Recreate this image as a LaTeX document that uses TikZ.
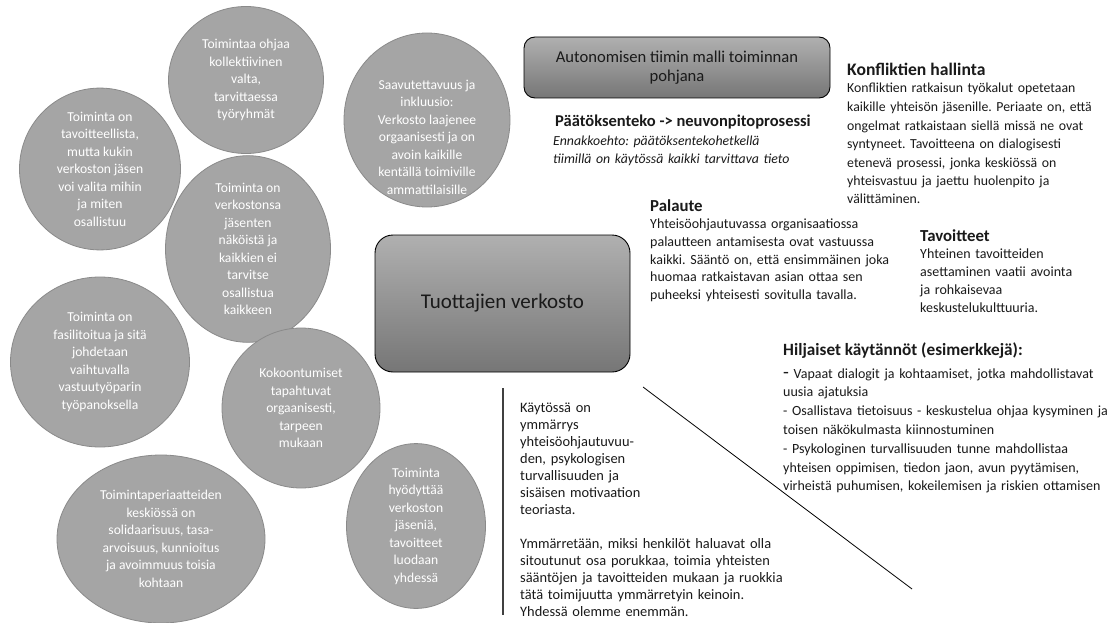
\documentclass[tikz,border=0pt]{standalone}
\usepackage{fontspec}
\setmainfont{Carlito}
\usetikzlibrary{shapes.geometric}
\definecolor{bubfill}{HTML}{A5A5A5}
\definecolor{bubline}{HTML}{8A8A8A}
\definecolor{boxtop}{HTML}{B0B0B0}
\definecolor{boxbot}{HTML}{767676}
\definecolor{textdark}{HTML}{1A1A1A}
\frenchspacing
\begin{document}
\begin{tikzpicture}[x=1pt,y=-1pt,
  bub/.style={ellipse, draw=bubline, fill=bubfill, line width=0.8pt, inner sep=0pt, text=white, align=center, font=\fontsize{13.6}{17.5}\selectfont},
  gbox/.style={draw=black, line width=0.9pt, top color=boxtop, bottom color=boxbot, text=textdark, align=center, inner sep=0pt},
  body/.style={anchor=base west, inner sep=0pt, text width=250pt, align=left, text=textdark, font=\fontsize{14}{18.3}\selectfont},
  head/.style={anchor=base west, inner sep=0pt, text=textdark, font=\fontsize{16.8}{20}\selectfont\bfseries},
]
\useasboundingbox (0,0) rectangle (1110,623);
\fill[white] (0,0) rectangle (1110,623);

% circles
\node[bub, minimum width=155pt, minimum height=147pt] (c1) at (246,80) {Toimintaa ohjaa\\kollektiivinen\\valta,\\tarvittaessa\\työryhmät};
\node[bub, minimum width=161pt, minimum height=161pt] (c2) at (100,169) {Toiminta on\\tavoitteellista,\\mutta kukin\\verkoston jäsen\\voi valita mihin\\ja miten\\osallistuu};
\node[bub, minimum width=165pt, minimum height=171pt] (c3) at (248,249) {Toiminta on\\verkostonsa\\jäsenten\\näköistä ja\\kaikkien ei\\tarvitse\\osallistua\\kaikkeen};
\node[bub, minimum width=166pt, minimum height=174pt] (c4) at (427,120) {};
\node[anchor=center, inner sep=0pt, text=white, align=center, font=\fontsize{13.6}{17.5}\selectfont] (c4t) at (427,137) {Saavutettavuus ja\\inkluusio:\\Verkosto laajenee\\orgaanisesti ja on\\avoin kaikille\\kentällä toimiville\\ammattilaisille};
\node[bub, minimum width=179pt, minimum height=170pt] (c5) at (100,362) {Toiminta on\\fasilitoitua ja sitä\\johdetaan\\vaihtuvalla\\vastuutyöparin\\työpanoksella};
\node[bub, minimum width=158pt, minimum height=160pt] (c6) at (301,408) {Kokoontumiset\\tapahtuvat\\orgaanisesti,\\tarpeen\\mukaan};
\node[bub, minimum width=208pt, minimum height=168pt] (c7) at (161,539) {Toimintaperiaatteiden\\keskiössä on\\solidaarisuus, tasa-\\arvoisuus, kunnioitus\\ja avoimmuus toisia\\kohtaan};
\node[bub, minimum width=139pt, minimum height=130pt] (c8) at (416,526) {Toiminta\\hyödyttää\\verkoston\\jäseniä,\\tavoitteet\\luodaan\\yhdessä};

% boxes
\node[gbox, rounded corners=11pt, minimum width=306pt, minimum height=61pt, font=\fontsize{16.6}{18.5}\selectfont] (auto) at (677,67.5) {Autonomisen tiimin malli toiminnan\\pohjana};
\node[gbox, rounded corners=18pt, minimum width=255pt, minimum height=137pt, font=\fontsize{21}{24}\selectfont] (main) at (502.5,303.5) {Tuottajien verkosto};

% texts
\node[head, font=\fontsize{16.5}{20}\selectfont\bfseries] (pth) at (555,127) {Päätöksenteko -> neuvonpitoprosessi};
\node[body, font=\fontsize{13.8}{18.3}\selectfont\itshape] (ptb) at (553,145) {Ennakkoehto: päätöksentekohetkellä\\tiimillä on käytössä kaikki tarvittava tieto};

\node[head, font=\fontsize{17.6}{20}\selectfont\bfseries] (konh) at (847,76) {Konfliktien hallinta};
\node[body, font=\fontsize{13.8}{18.5}\selectfont] (konb) at (847,93) {Konfliktien ratkaisun työkalut opetetaan\\kaikille yhteisön jäsenille. Periaate on, että\\ongelmat ratkaistaan siellä missä ne ovat\\syntyneet. Tavoitteena on dialogisesti\\etenevä prosessi, jonka keskiössä on\\yhteisvastuu ja jaettu huolenpito ja\\välittäminen.};

\node[head] (palh) at (650,211) {Palaute};
\node[body, font=\fontsize{14}{17.8}\selectfont] (palb) at (650,228.5) {Yhteisöohjautuvassa organisaatiossa\\palautteen antamisesta ovat vastuussa\\kaikki. Sääntö on, että ensimmäinen joka\\huomaa ratkaistavan asian ottaa sen\\puheeksi yhteisesti sovitulla tavalla.};

\node[head] (tavh) at (920,241) {Tavoitteet};
\node[body, text width=180pt, font=\fontsize{14}{18}\selectfont] (tavb) at (920,258.5) {Yhteinen tavoitteiden\\asettaminen vaatii avointa\\ja rohkaisevaa\\keskustelukulttuuria.};

\node[head, font=\fontsize{17.2}{20}\selectfont\bfseries] (hilh) at (783,355) {Hiljaiset käytännöt (esimerkkejä):};
\node[body, text width=325pt, font=\fontsize{14}{18.8}\selectfont] (hilb) at (783,378) {{\fontsize{19}{18}\selectfont -}\ Vapaat dialogit ja kohtaamiset, jotka mahdollistavat\\uusia ajatuksia\\- Osallistava tietoisuus - keskustelua ohjaa kysyminen ja\\toisen näkökulmasta kiinnostuminen\\- Psykologinen turvallisuuden tunne mahdollistaa\\yhteisen oppimisen, tiedon jaon, avun pyytämisen,\\virheistä puhumisen, kokeilemisen ja riskien ottamisen};

\node[body, text width=300pt, font=\fontsize{14.4}{17}\selectfont] (teo) at (520,412.5) {Käytössä on\\ymmärrys\\yhteisöohjautuvuu-\\den, psykologisen\\turvallisuuden ja\\sisäisen motivaation\\teoriasta.\\[17pt]Ymmärretään, miksi henkilöt haluavat olla\\sitoutunut osa porukkaa, toimia yhteisten\\sääntöjen ja tavoitteiden mukaan ja ruokkia\\tätä toimijuutta ymmärretyin keinoin.\\Yhdessä olemme enemmän.};

% lines
\coordinate (v1) at (503,388);
\coordinate (v2) at (503,615);
\draw[line width=1.2pt, draw=black!75] (v1) -- (v2);
\coordinate (d1) at (643,387);
\coordinate (d2) at (912,589);
\draw[line width=0.8pt] (d1) -- (d2);
\end{tikzpicture}
\end{document}
